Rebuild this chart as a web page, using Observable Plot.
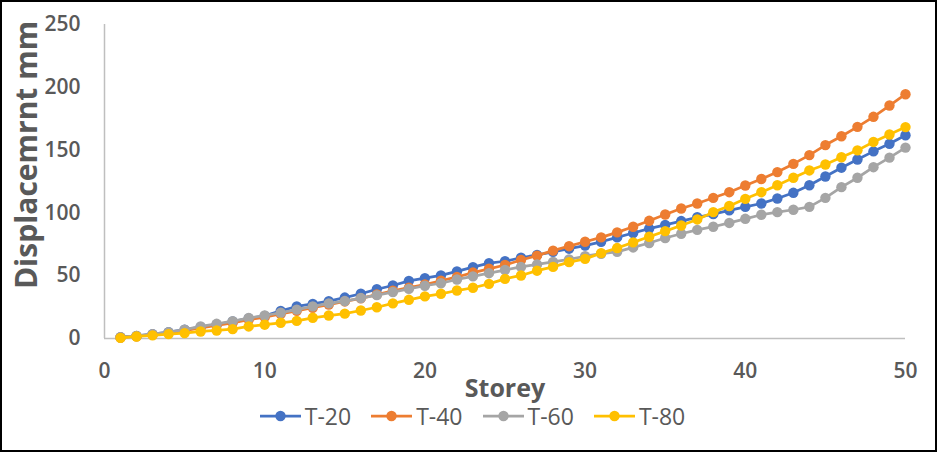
<!DOCTYPE html>
<html>
<head>
<meta charset="utf-8">
<script src="https://cdn.jsdelivr.net/npm/d3@7"></script>
<script src="https://cdn.jsdelivr.net/npm/@observablehq/plot@0.6"></script>
<style>
  html, body { margin: 0; padding: 0; background: #fff; }
  #wrap { position: relative; width: 937px; height: 452px; overflow: hidden; background: #fff; font-family: "Open Sans", sans-serif; }
  #frame { position: absolute; left: 0; top: 0; width: 937px; height: 452px; box-sizing: border-box; border: 2px solid #000; pointer-events: none; }
  #legend { height: 52px; display: flex; justify-content: center; align-items: flex-start; padding-left: 8px; box-sizing: border-box; }
  .item { display: flex; align-items: center; margin: 0 10px; height: 32px; }
  .item span { font-size: 23px; color: #595959; margin-left: 4px; line-height: 32px; }
</style>
</head>
<body>
<div id="wrap"><div id="chart"></div><div id="legend"></div><div id="frame"></div></div>
<script>
const storeys = [1,2,3,4,5,6,7,8,9,10,11,12,13,14,15,16,17,18,19,20,21,22,23,24,25,26,27,28,29,30,31,32,33,34,35,36,37,38,39,40,41,42,43,44,45,46,47,48,49,50];
const seriesNames = ["T-20", "T-40", "T-60", "T-80"];
const seriesColors = ["#4472C4", "#ED7D31", "#A5A5A5", "#FFC000"];
const t20 = [1,2,3.5,5,7,9,11,13.5,16,18,22,25.5,27.6,29.7,32.6,35.6,39.2,42.2,45.9,48.1,50.2,53.4,56.8,60,61.5,64.3,66.5,69,71.5,74,77,80.5,84,87.5,90.5,93.5,96.5,99,102,104.8,107.5,111.5,116,122,129,136,142.5,149,155,161.8];
const t40 = [0.8,1.8,3,4.5,6.3,8.5,10.5,12.5,15,17,19.5,22,24.5,27,29.5,32,35,38,40.5,43,46,49,52.5,55.5,58.5,62.5,66,70,73.5,77,80.5,84.5,89,93.7,98.7,103.5,107.5,112,116.5,121.8,127,132.5,139,146,154,161,168.5,176.5,185.5,194.5];
const t60 = [1,2,3.5,5,7,9.6,11.7,13.8,16.3,18.3,20.5,23,25.6,28,29.8,32.2,34.5,37,39.5,42,44,47,49.5,52,54.5,57,59,61,63,65.5,67.5,69,72.5,76,80,83.4,86.5,89,92,95.3,98.5,100.6,102.5,104.8,112,120.5,128,136.4,144,152];
const t80 = [0.5,1.6,2.5,3.5,4.3,5.6,6.4,7.5,9.6,11,12.5,14,16.5,18.3,19.8,22.3,24.9,28,30.8,33.5,35.6,38.2,40.4,43.5,47.5,50.2,54,57,60.8,63.4,68,72,76.5,81,85.5,90,94.8,100.6,105.5,111.2,116.5,122,128,133.8,138.5,144.3,149.8,156.5,162.4,168.3];
const xTicks = [0,10,20,30,40,50];
const yTicks = [0,50,100,150,200,250];
const xTitle = "Storey";
const yTitle = "Displacemrnt mm";

const allSeries = [t20, t40, t60, t80];
const seriesMarks = allSeries.flatMap((vals, i) => {
  const rows = storeys.map((s, j) => ({storey: s, value: vals[j]}));
  return [
    Plot.line(rows, {x: "storey", y: "value", stroke: seriesColors[i], strokeWidth: 2.75}),
    Plot.dot(rows, {x: "storey", y: "value", fill: seriesColors[i], r: 5.2, stroke: "none"})
  ];
});

const chart = Plot.plot({
  width: 937,
  height: 400,
  marginLeft: 104,
  marginRight: 32,
  marginTop: 24,
  marginBottom: 62,
  style: {fontFamily: "Open Sans, sans-serif", color: "#595959", background: "transparent", overflow: "visible"},
  x: {domain: [0, 50]},
  y: {domain: [0, 250]},
  marks: [
    Plot.axisX({ticks: xTicks, tickSize: 0, tickPadding: 25, fontSize: 21, fontWeight: 600, label: null}),
    Plot.axisY({ticks: yTicks, tickSize: 0, tickPadding: 24, fontSize: 21, fontWeight: 600, label: null}),
    Plot.ruleX([0], {stroke: "#bfbfbf", strokeWidth: 1.5}),
    Plot.ruleY([0], {stroke: "#bfbfbf", strokeWidth: 1.5}),
    ...seriesMarks
  ]
});
document.getElementById("chart").appendChild(chart);

const svg = d3.select(chart);
svg.append("text")
  .attr("x", 505).attr("y", 387)
  .attr("text-anchor", "middle").attr("dominant-baseline", "central")
  .attr("font-size", 25).attr("font-weight", "bold").attr("fill", "#595959")
  .attr("font-family", "Open Sans, sans-serif")
  .text(xTitle);
svg.append("text")
  .attr("transform", "translate(25,155) rotate(-90)")
  .attr("text-anchor", "middle").attr("dominant-baseline", "central")
  .attr("font-size", 30).attr("font-weight", "bold").attr("fill", "#595959")
  .attr("font-family", "Open Sans, sans-serif")
  .text(yTitle);

const legend = document.getElementById("legend");
seriesNames.forEach((name, i) => {
  const item = document.createElement("div");
  item.className = "item";
  item.innerHTML = `<svg width="41" height="12"><line x1="0" y1="6" x2="41" y2="6" stroke="${seriesColors[i]}" stroke-width="2.75"/><circle cx="20.5" cy="6" r="5.2" fill="${seriesColors[i]}"/></svg><span>${name}</span>`;
  legend.appendChild(item);
});
</script>
</body>
</html>
